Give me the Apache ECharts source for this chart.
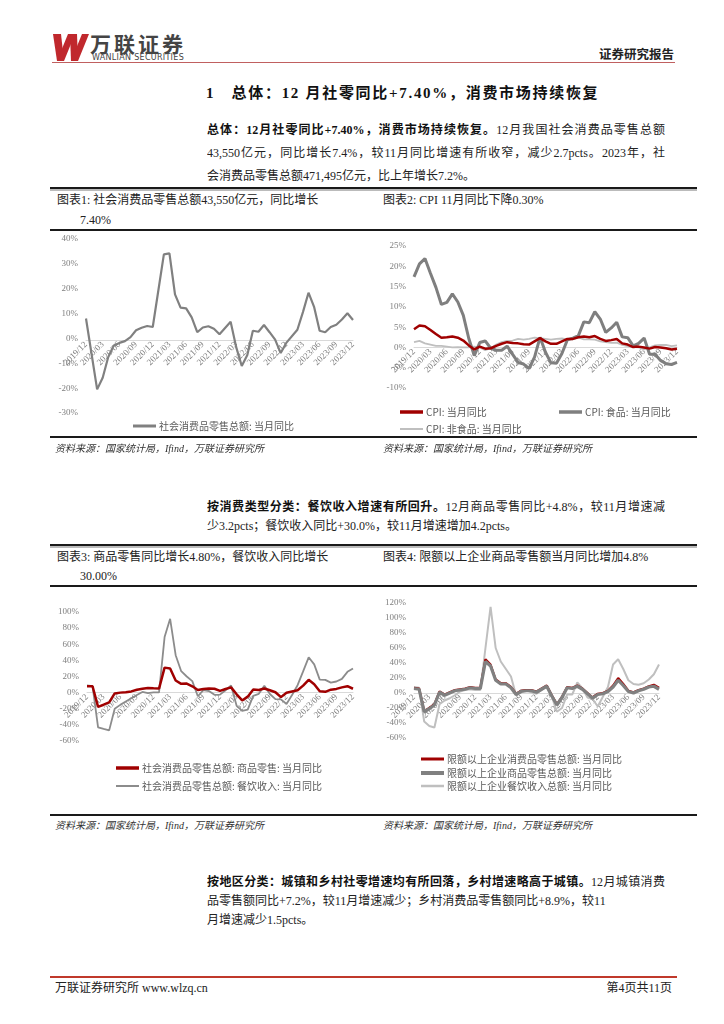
<!DOCTYPE html>
<html><head><meta charset="utf-8">
<script src="https://cdn.jsdelivr.net/npm/echarts@6/dist/echarts.min.js"></script>
<style>
html,body{margin:0;padding:0;background:#fff;}
body{width:724px;height:1024px;position:relative;overflow:hidden;font-family:"Liberation Serif","Noto Sans CJK SC",serif;color:#222;}
.a{position:absolute;white-space:nowrap;}
.ln{position:absolute;left:207px;width:458px;font-size:12px;line-height:16px;height:16px;white-space:nowrap;}
.j{text-align:justify;text-align-last:justify;white-space:normal;overflow:hidden;}
.ft{position:absolute;font-size:12px;line-height:16px;white-space:nowrap;color:#222;}
.src{position:absolute;font-size:10px;line-height:14px;font-style:italic;color:#333;white-space:nowrap;}
.rule{position:absolute;left:50px;width:647px;background:#1a1a1a;}
.chart{position:absolute;}
b{font-weight:700;color:#111;}
</style></head>
<body>
<svg class="a" style="left:0;top:0" width="724" height="70">
  <polygon points="53,34 61,34 64,61 57,61" fill="#c0282d"/>
  <polygon points="57,61 64,61 75,34 68,34" fill="#c0282d"/>
  <polygon points="70,34 77,34 78,61 71,61" fill="#c0282d"/>
  <polygon points="71,61 78,61 89,34 82,34" fill="#c0282d"/>
</svg>
<div class="a" style="left:90px;top:30px;font-family:'Noto Sans CJK SC';font-weight:700;font-size:21px;line-height:26px;letter-spacing:3px;color:#444;">万联证券</div>
<div class="a" style="left:92px;top:53px;font-family:'DejaVu Sans';font-size:8px;line-height:10px;letter-spacing:0.3px;color:#444;">WANLIAN SECURITIES</div>
<div class="a" style="right:50px;top:47px;font-weight:700;font-size:12.5px;line-height:16px;color:#222;">证券研究报告</div>
<div class="a" style="left:52px;top:62px;width:623px;height:1px;background:#c06060;"></div>

<div class="a" style="left:206px;top:84px;font-weight:700;font-size:15px;line-height:18px;letter-spacing:1.7px;color:#111;">1&nbsp;&nbsp;&nbsp;总体：12 月社零同比+7.40%，消费市场持续恢复</div>

<div class="ln j" style="top:122px;"><b>总体：12月社零同比+7.40%，消费市场持续恢复。</b>12月我国社会消费品零售总额</div>
<div class="ln j" style="top:145px;">43,550亿元，同比增长7.4%，较11月同比增速有所收窄，减少2.7pcts。2023年，社</div>
<div class="ln" style="top:168px;">会消费品零售总额471,495亿元，比上年增长7.2%。</div>

<div class="rule" style="top:187px;height:2px;box-shadow:0 2px 0 #bbb;"></div>
<div class="ft" style="left:57px;top:192px;">图表1: 社会消费品零售总额43,550亿元，同比增长</div>
<div class="ft" style="left:80px;top:212px;">7.40%</div>
<div class="ft" style="left:383px;top:192px;">图表2: CPI 11月同比下降0.30%</div>
<div class="rule" style="top:229px;height:2px;"></div>
<div id="c1" class="chart" style="left:50px;top:228px;width:320px;height:210px;"></div>
<div id="c2" class="chart" style="left:372px;top:228px;width:328px;height:210px;"></div>
<div class="rule" style="top:436px;height:2px;"></div>
<div class="src" style="left:55px;top:442px;">资料来源：国家统计局，Ifind，万联证券研究所</div>
<div class="src" style="left:383px;top:442px;">资料来源：国家统计局，Ifind，万联证券研究所</div>

<div class="ln j" style="top:499px;"><b>按消费类型分类：餐饮收入增速有所回升。</b>12月商品零售同比+4.8%，较11月增速减</div>
<div class="ln" style="top:518px;">少3.2pcts；餐饮收入同比+30.0%，较11月增速增加4.2pcts。</div>

<div class="rule" style="top:544px;height:2px;box-shadow:0 2px 0 #bbb;"></div>
<div class="ft" style="left:57px;top:549px;">图表3: 商品零售同比增长4.80%，餐饮收入同比增长</div>
<div class="ft" style="left:80px;top:568px;">30.00%</div>
<div class="ft" style="left:383px;top:549px;">图表4: 限额以上企业商品零售额当月同比增加4.8%</div>
<div class="rule" style="top:585px;height:2px;"></div>
<div id="c3" class="chart" style="left:50px;top:588px;width:320px;height:226px;"></div>
<div id="c4" class="chart" style="left:372px;top:588px;width:328px;height:226px;"></div>
<div class="rule" style="top:814px;height:2px;"></div>
<div class="src" style="left:55px;top:819px;">资料来源：国家统计局，Ifind，万联证券研究所</div>
<div class="src" style="left:383px;top:819px;">资料来源：国家统计局，Ifind，万联证券研究所</div>

<div class="ln j" style="top:874px;"><b>按地区分类：城镇和乡村社零增速均有所回落，乡村增速略高于城镇。</b>12月城镇消费</div>
<div class="ln" style="top:893px;">品零售额同比+7.2%，较11月增速减少；乡村消费品零售额同比+8.9%，较11</div>
<div class="ln" style="top:912px;">月增速减少1.5pcts。</div>

<div class="a" style="left:50px;top:976px;width:627px;height:2px;background:#c0392b;"></div>
<div class="a" style="left:55px;top:980px;font-size:12px;line-height:16px;">万联证券研究所 www.wlzq.cn</div>
<div class="a" style="right:52px;top:980px;font-size:12px;line-height:16px;">第4页共11页</div>

<script>
// ---- data ----
const months = ['2019/12','2020/01','2020/02','2020/03','2020/04','2020/05','2020/06','2020/07','2020/08','2020/09','2020/10','2020/11','2020/12',
'2021/01','2021/02','2021/03','2021/04','2021/05','2021/06','2021/07','2021/08','2021/09','2021/10','2021/11','2021/12',
'2022/01','2022/02','2022/03','2022/04','2022/05','2022/06','2022/07','2022/08','2022/09','2022/10','2022/11','2022/12',
'2023/01','2023/02','2023/03','2023/04','2023/05','2023/06','2023/07','2023/08','2023/09','2023/10','2023/11','2023/12'];

const retailYoY = [8.0,null,-20.5,-15.8,-7.5,-2.8,-1.8,-1.1,0.5,3.3,4.3,5.0,4.6,null,33.8,34.2,17.7,12.4,12.1,8.5,2.5,4.4,4.9,3.9,1.7,null,6.7,-3.5,-11.1,-6.7,3.1,2.7,5.4,2.5,-0.5,-5.9,-1.8,null,3.5,10.6,18.4,12.7,3.1,2.5,4.6,5.5,7.6,10.1,7.4];

const cpiYoY = [4.5,5.4,5.2,4.3,3.3,2.4,2.5,2.7,2.4,1.7,0.5,-0.5,0.2,-0.3,-0.2,0.4,0.9,1.3,1.1,1.0,0.8,0.7,1.5,2.3,1.5,0.9,0.9,1.5,2.1,2.1,2.5,2.7,2.5,2.8,2.1,1.6,1.8,2.1,1.0,0.7,0.1,0.2,0.0,-0.3,0.1,0.0,-0.2,-0.5,-0.3];
const cpiFoodYoY = [17.4,20.6,21.9,18.3,14.8,10.6,11.1,13.2,11.2,7.9,2.2,-2.0,1.2,1.6,-0.2,-0.7,-0.7,0.3,-1.7,-3.7,-4.1,-5.2,-2.4,2.5,-1.2,-3.8,-3.9,-1.5,1.9,2.3,2.9,6.3,6.1,8.8,7.0,3.7,4.8,6.2,2.6,2.4,0.4,1.0,2.3,-1.7,-1.7,-3.2,-4.0,-4.2,-3.7];
const cpiNonFoodYoY = [1.3,1.6,1.0,0.7,0.4,0.4,0.2,0.0,0.1,0.0,0.0,0.2,0.0,-0.7,-0.2,0.7,1.3,1.6,1.7,2.1,1.9,2.1,2.4,2.3,2.1,1.9,2.1,2.2,2.0,2.0,2.5,2.0,2.0,1.9,1.5,1.3,1.1,1.2,0.6,0.3,0.1,0.0,-0.5,0.0,0.5,0.6,0.6,0.3,0.5];

const goodsYoY = [7.9,7.9,-17.6,-15.0,-12.0,-1.0,0.0,0.5,1.5,3.5,4.7,5.8,5.3,5.0,31.0,30.0,15.1,10.9,11.2,7.9,3.3,4.5,5.2,4.8,2.2,4.5,6.5,-2.1,-9.7,-5.0,3.9,3.2,5.1,3.0,0.5,-5.6,-0.1,1.5,2.9,8.7,15.9,10.5,1.7,1.0,3.7,4.6,6.5,8.0,4.8];
const cateringYoY = [9.0,8.0,-43.1,-45.0,-46.8,-20.0,-15.2,-11.0,-7.0,-2.9,0.8,-0.6,0.4,0.4,68.9,91.6,46.4,26.6,20.0,14.3,-4.5,3.1,2.0,-2.7,-2.5,3.0,8.9,-16.4,-22.7,-21.1,-4.0,-1.5,8.4,-1.7,-8.1,-8.4,-14.1,-3.0,9.2,26.3,43.8,35.1,16.1,15.8,12.4,13.8,17.1,25.8,30.0];

const aboveTotalYoY = [7,6,-24,-20,-15,2,-2,1,4,5,6,8,7,7,45,38,18,13,13,8,-1,3,4,4,2,6,10,-3,-15,-5,8,7,10,6,0,-6,-1,0,3,10,20,12,3,1,4,6,9,11,7];
const aboveGoodsYoY = [6,5,-25,-21,-16,1,-3,0,3,4,5,7,6,6,42,36,17,12,12,7,-2,2,3,3,1,5,9,-4,-16,-6,7,6,9,5,-1,-7,-2,-1,2,8,17,10,2,0,3,5,8,9,5];
const aboveCateringYoY = [8,7,-38,-44,-46,-15,-10,-7,-3,2,4,5,4,4,60,115,60,42,32,22,-3,4,4,1,-1,4,10,-5,-25,-20,-2,-2,14,6,-6,-8,-18,-5,8,38,45,32,17,12,11,13,18,25,38];

// ---- styles ----
const RED = '#a00000', GRAY = '#7f7f7f', LGRAY = '#bfbfbf';
const numFont = 'Liberation Serif';
const cjkFont = 'Noto Sans CJK SC';

function xAxis(){
  return {type:'category', data:months, boundaryGap:false,
    axisLine:{onZero:false, lineStyle:{color:'#d9d9d9', width:1}},
    axisTick:{show:false}, splitLine:{show:false},
    axisLabel:{interval:2, rotate:45, fontSize:9, color:'#7f7f7f', fontFamily:numFont, margin:3}};
}
function yAxis(min,max,interval){
  return {type:'value', min:min, max:max, interval:interval,
    axisLine:{show:false}, axisTick:{show:false}, splitLine:{show:false},
    axisLabel:{formatter:'{value}%', fontSize:9, color:'#7f7f7f', fontFamily:numFont, margin:8}};
}
function legend(name, left, top, h){
  return {data:[name], left:left, top:top, icon:'rect', itemWidth:23, itemHeight:h, itemGap:4,
    selectedMode:false, textStyle:{fontSize:10, color:'#595959', fontFamily:cjkFont, padding:[0,0,0,-2]}};
}
function line(name, data, color, width, z){
  return {type:'line', name:name, data:data, showSymbol:false, symbol:'none', connectNulls:true, z:z,
    lineStyle:{color:color, width:width}, itemStyle:{color:color}, animation:false};
}
// move the category axis (line + labels) up to the 0% position using the value scale
function axisAtZero(chart, min){
  const y0 = chart.convertToPixel({yAxisIndex:0}, 0);
  const yb = chart.convertToPixel({yAxisIndex:0}, min);
  chart.setOption({xAxis:{offset: -(yb - y0)}});
}

const c1 = echarts.init(document.getElementById('c1'));
c1.setOption({
  animation:false,
  grid:{left:36, right:17, top:11, bottom:25},
  xAxis:xAxis(), yAxis:yAxis(-30,40,10),
  legend:[legend('社会消费品零售总额: 当月同比', 78, 188, 3)],
  series:[line('社会消费品零售总额: 当月同比', retailYoY, '#808080', 2.2, 2)]
});
axisAtZero(c1, -30);

const c2 = echarts.init(document.getElementById('c2'));
c2.setOption({
  animation:false,
  grid:{left:42, right:23, top:18, bottom:50},
  xAxis:xAxis(), yAxis:yAxis(-10,25,5),
  legend:[legend('CPI: 当月同比', 23, 174, 3.5), legend('CPI: 食品: 当月同比', 182, 174, 3.5), legend('CPI: 非食品: 当月同比', 23, 191, 2)],
  series:[line('CPI: 当月同比', cpiYoY, RED, 2.5, 4),
          line('CPI: 食品: 当月同比', cpiFoodYoY, GRAY, 3, 3),
          line('CPI: 非食品: 当月同比', cpiNonFoodYoY, LGRAY, 1.8, 2)]
});
axisAtZero(c2, -10);

const c3 = echarts.init(document.getElementById('c3'));
c3.setOption({
  animation:false,
  grid:{left:37, right:17, top:24, bottom:73},
  xAxis:xAxis(), yAxis:yAxis(-60,100,20),
  legend:[legend('社会消费品零售总额: 商品零售: 当月同比', 61, 170, 3.5), legend('社会消费品零售总额: 餐饮收入: 当月同比', 61, 188, 2)],
  series:[line('社会消费品零售总额: 商品零售: 当月同比', goodsYoY, RED, 2.5, 4),
          line('社会消费品零售总额: 餐饮收入: 当月同比', cateringYoY, '#8c8c8c', 1.8, 3)]
});
axisAtZero(c3, -60);

const c4 = echarts.init(document.getElementById('c4'));
c4.setOption({
  animation:false,
  grid:{left:42, right:41, top:15, bottom:76},
  xAxis:xAxis(), yAxis:yAxis(-60,120,20),
  legend:[legend('限额以上企业消费品零售总额: 当月同比', 44, 161, 3),
          legend('限额以上企业商品零售总额: 当月同比', 44, 175, 4),
          legend('限额以上企业餐饮收入总额: 当月同比', 44, 188, 2.5)],
  series:[line('限额以上企业消费品零售总额: 当月同比', aboveTotalYoY, RED, 2.2, 2),
          line('限额以上企业商品零售总额: 当月同比', aboveGoodsYoY, '#808080', 3.2, 3),
          line('限额以上企业餐饮收入总额: 当月同比', aboveCateringYoY, LGRAY, 2, 1)]
});
axisAtZero(c4, -60);
</script>
</body></html>
